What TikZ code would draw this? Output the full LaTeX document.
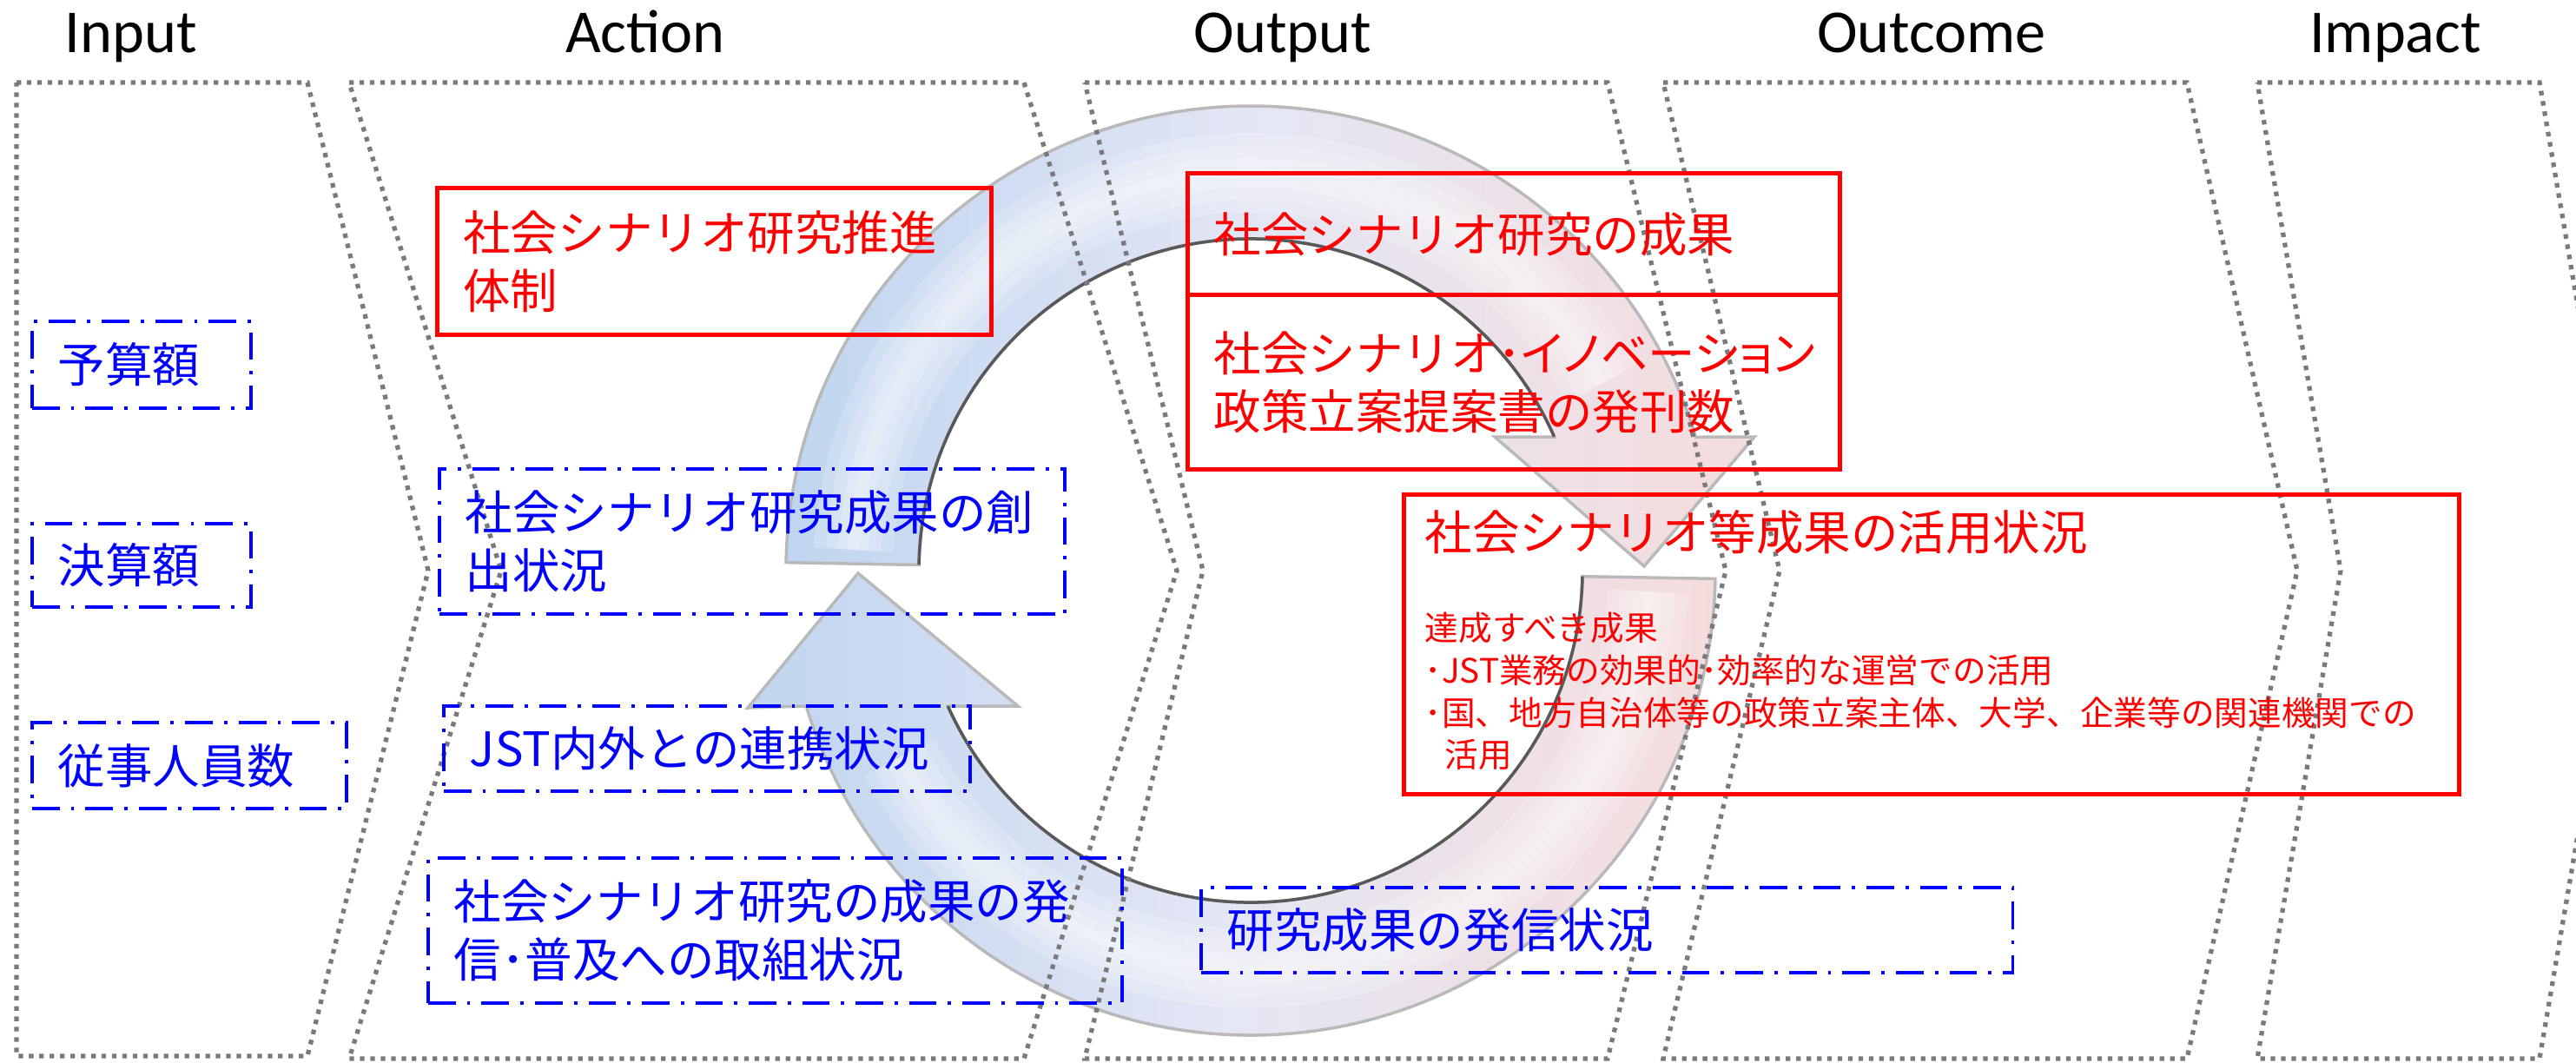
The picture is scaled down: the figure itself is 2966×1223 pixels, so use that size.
\documentclass[tikz,border=0pt]{standalone}
\usepackage{fontspec}
\setmainfont{Noto Sans CJK JP}
\newfontfamily\labelfont{Carlito}

\definecolor{ringblue}{RGB}{192,213,240}
\definecolor{ringmid}{RGB}{228,230,244}
\definecolor{ringpink}{RGB}{245,220,220}

\newcommand{\boxfont}{\fontsize{15.5pt}{19pt}\selectfont}
\newcommand{\goalfont}{\fontsize{11pt}{13.9pt}\selectfont}

\begin{document}
\begin{tikzpicture}[x=0.01cm, y=-0.01cm,
    column/.style={draw=black!52, line width=1.5pt, dash pattern=on 1.5pt off 1.9pt},
    redbox/.style={draw=red, line width=1.4pt, text=red, anchor=north west,
      inner xsep=0.3cm, inner ysep=0pt, align=left, font=\boxfont},
    bluebox/.style={draw=blue, line width=1.1pt, dash pattern=on 9pt off 3.7pt on 1.1pt off 3.7pt,
      text=blue, anchor=north west, inner xsep=0.3cm, inner ysep=0pt, align=left, font=\boxfont},
    ringarrow/.style={left color=ringblue, right color=ringpink, middle color=ringmid,
      draw=gray!55, line width=1pt},
    ringedge/.style={draw=black!65, line width=1pt},
    ringgloss/.style={draw=white, opacity=0.18, line width=#1},
    collabel/.style={anchor=base, font=\labelfont\fontsize{20pt}{24pt}\selectfont}]

\useasboundingbox (0,0) rectangle (2966,1223);
\clip (0,0) rectangle (2966,1223);

% the two halves of the cycle
\coordinate (ring) at (1440,657);
\shadedraw[ringarrow] (ring) ++(181:535) arc[start angle=181, end angle=343.3, radius=535]
  -- (2020,503) -- (1893,652) -- (1721,503) -- (1789.6,503)
  arc[start angle=336.2, end angle=181, radius=382] -- cycle;
\shadedraw[ringarrow] (ring) ++(1:535) arc[start angle=1, end angle=163.05, radius=535]
  -- (861,815) -- (988,660) -- (1172,813) -- (1091.4,813)
  arc[start angle=155.9, end angle=1, radius=382] -- cycle;
\foreach \w in {26pt,18pt,10pt,4pt} {
  \draw[ringgloss=\w] (ring) ++(183:458) arc[start angle=183, end angle=332, radius=458];
  \draw[ringgloss=\w] (ring) ++(3:458) arc[start angle=3, end angle=152, radius=458];
}
\draw[ringedge] (ring) ++(336.2:382) arc[start angle=336.2, end angle=181, radius=382];
\draw[ringedge] (ring) ++(155.9:382) arc[start angle=155.9, end angle=1, radius=382];

% columns
\draw[column] (19,95) -- (354,95) -- (493,657) -- (354,1216) -- (19,1216) -- cycle;
\foreach \l/\n/\r/\p in {402/577/1179/1355, 1249/1385/1851/1987, 1915/2049/2518/2645, 2599/2695/2924/3020}
  \draw[column] (\l,95) -- (\r,95) -- (\p,657) -- (\r,1219) -- (\l,1219) -- (\n,657) -- cycle;

\foreach \name/\x in {Input/151, Action/743, Output/1477, Outcome/2224, Impact/2758}
  \node[collabel] (\name) at (\x,60) {\name};

% input
\node[bluebox, text width=1.92cm, minimum height=1cm] (budget) at (35,368) {予算額};
\node[bluebox, text width=1.92cm, minimum height=0.96cm] (settle) at (35,601) {決算額};
\node[bluebox, text width=3.02cm, minimum height=0.99cm] (staff) at (35,830) {従事人員数};

% action
\node[redbox, text width=5.78cm, minimum height=1.69cm] (system) at (501,214) {社会シナリオ研究推進\\体制};
\node[bluebox, text width=6.6cm, minimum height=1.67cm] (create) at (504,538) {社会シナリオ研究成果の創\\出状況};
\node[bluebox, text width=5.46cm, minimum height=0.98cm] (jst) at (509,811) {JST内外との連携状況};
\node[bluebox, text width=7.39cm, minimum height=1.67cm] (spread) at (491,986) {社会シナリオ研究の成果の発\\信･普及への取組状況};

% output
\node[redbox, text width=6.91cm, minimum height=1.4cm] (result) at (1365,197) {社会シナリオ研究の成果};
\node[redbox, text width=6.91cm, minimum height=2.01cm] (proposal) at (1365,337)
  {社会シナリオ{\addfontfeature{RawFeature=+palt}･イノベーション}\\政策立案提案書の発刊数};
\node[bluebox, text width=8.74cm, minimum height=0.98cm] (outreach) at (1381,1020) {研究成果の発信状況};

% outcome
\node[redbox, text width=11.54cm, minimum height=3.45cm] (use) at (1614,567) {};
\node[anchor=west, inner sep=0pt, text=red, font=\boxfont] (usetitle) at (1640,613) {社会シナリオ等成果の活用状況};
\node[anchor=west, inner sep=0pt, text=red, align=left, font=\goalfont] (usegoal) at (1640,796)
  {達成すべき成果\\
   ･JST業務の効果的･効率的な運営での活用\\
   ･国、地方自治体等の政策立案主体、大学、企業等の関連機関での\\
   \hspace*{0.6em}活用};

\end{tikzpicture}
\end{document}
